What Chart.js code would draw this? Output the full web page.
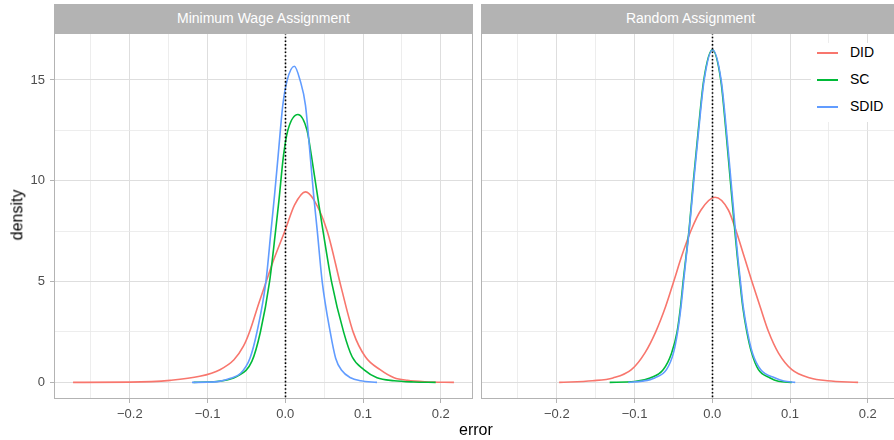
<!DOCTYPE html>
<html>
<head>
<meta charset="utf-8">
<script src="https://cdn.jsdelivr.net/npm/chart.js@4.4.0/dist/chart.umd.min.js"></script>
<style>
  html, body { margin: 0; padding: 0; background: #fff; overflow: hidden; }
  #wrap { position: relative; width: 894px; height: 440px; overflow: hidden;
          font-family: "Liberation Sans", Arial, sans-serif; }
  canvas { position: absolute; top: 0; }
  .strip { position: absolute; top: 4px; height: 29px; background: #b3b3b3; color: #fff;
           font-size: 14px; line-height: 29px; text-align: center; }
  .title { position: absolute; color: #000; font-size: 16px; white-space: nowrap; }
  #legend { position: absolute; left: 811px; top: 43px; width: 90px; height: 79px; background: #fff; }
  .item { position: absolute; left: 0; height: 20px; }
  .key { position: absolute; left: 6px; top: 9px; width: 21px; height: 2px; }
  .lab { position: absolute; left: 39px; top: 1px; font-size: 14px; color: #000; }
</style>
</head>
<body>
<div id="wrap">
  <canvas id="mw" width="474" height="440" style="left:0"></canvas>
  <canvas id="ra" width="420" height="440" style="left:481px"></canvas>
  <div class="strip" style="left:54px;width:419px">Minimum Wage Assignment</div>
  <div class="strip" style="left:481px;width:419px">Random Assignment</div>
  <div class="title" style="left:459px;top:421px">error</div>
  <div class="title" style="left:-8px;top:206px;transform:rotate(-90deg);transform-origin:center">density</div>
  <div id="legend"></div>
</div>
<script>
// series (error, density)
const seriesNames  = ['DID', 'SC', 'SDID'];
const seriesColors = ['#F8766D', '#00BA38', '#619CFF'];

const xTicks = [-0.25, -0.2, -0.15, -0.1, -0.05, 0, 0.05, 0.1, 0.15, 0.2];
const yTicks = [0, 2.5, 5, 7.5, 10, 12.5, 15];

// Minimum Wage Assignment
const mwDidX  = [-0.273, -0.2, -0.148, -0.11, -0.084, -0.066, -0.054, -0.046, -0.034, -0.0245, -0.015, 0, 0.012, 0.026, 0.037, 0.054, 0.072, 0.0875, 0.103, 0.122, 0.14, 0.157, 0.18, 0.217];
const mwDidY  = [0, 0.01, 0.1, 0.3, 0.63, 1.12, 1.78, 2.5, 3.93, 5.0, 6.07, 7.56, 8.8, 9.45, 9.04, 7.5, 4.7, 2.48, 1.27, 0.63, 0.23, 0.1, 0.03, 0];
const mwScX   = [-0.118, -0.1, -0.088, -0.075, -0.062, -0.043, -0.032, -0.0202, -0.0125, -0.0082, -0.0022, 0.0033, 0.0163, 0.028, 0.0335, 0.0425, 0.0486, 0.0595, 0.0752, 0.086, 0.101, 0.118, 0.14, 0.165, 0.1935];
const mwScY   = [0, 0.015, 0.04, 0.12, 0.3, 1.04, 2.5, 5.0, 7.5, 9.0, 11.27, 12.5, 13.29, 12.5, 11.27, 9.0, 7.5, 5.0, 2.48, 1.27, 0.63, 0.23, 0.08, 0.02, 0];
const mwSdidX = [-0.12, -0.1, -0.085, -0.0704, -0.0574, -0.0454, -0.0364, -0.0249, -0.0184, -0.0138, -0.0091, -0.0032, 0.0024, 0.0116, 0.0191, 0.026, 0.032, 0.0365, 0.0412, 0.0475, 0.0578, 0.0648, 0.0725, 0.084, 0.097, 0.118];
const mwSdidY = [0, 0.01, 0.05, 0.2, 0.45, 1.2, 2.5, 5.0, 7.5, 9.29, 11.27, 13.74, 14.98, 15.68, 14.98, 13.74, 11.27, 9.29, 7.5, 5.0, 2.5, 1.2, 0.6, 0.23, 0.08, 0];

// Random Assignment
const raDidX  = [-0.197, -0.154, -0.1277, -0.104, -0.0868, -0.0726, -0.06, -0.0494, -0.0395, -0.0275, -0.0145, 0.0035, 0.0207, 0.0306, 0.041, 0.0508, 0.0615, 0.0723, 0.0852, 0.1024, 0.126, 0.148, 0.1876];
const raDidY  = [0, 0.08, 0.22, 0.63, 1.45, 2.52, 3.76, 5.03, 6.24, 7.52, 8.55, 9.18, 8.55, 7.52, 6.24, 5.03, 3.76, 2.52, 1.45, 0.63, 0.22, 0.08, 0];
const raScX   = [-0.132, -0.1, -0.08, -0.0632, -0.0524, -0.0452, -0.0408, -0.0374, -0.0338, -0.03, -0.0242, -0.018, -0.011, 0, 0.011, 0.0175, 0.0232, 0.029, 0.0322, 0.0355, 0.0392, 0.0444, 0.0508, 0.0594, 0.0745, 0.085, 0.1024];
const raScY   = [0, 0.04, 0.22, 0.63, 1.45, 2.52, 3.76, 5.03, 6.24, 7.52, 10.03, 12.5, 14.98, 16.5, 14.98, 12.5, 10.03, 7.52, 6.24, 5.03, 3.76, 2.52, 1.45, 0.63, 0.22, 0.06, 0];
const raSdidX = [-0.108, -0.09, -0.074, -0.0589, -0.05, -0.0445, -0.0402, -0.0368, -0.0335, -0.0297, -0.0237, -0.0175, -0.0105, 0.0005, 0.0115, 0.0182, 0.024, 0.0298, 0.0328, 0.0362, 0.0398, 0.0452, 0.0518, 0.0624, 0.081, 0.092, 0.1067];
const raSdidY = [0, 0.06, 0.22, 0.63, 1.45, 2.52, 3.76, 5.03, 6.24, 7.52, 10.03, 12.5, 14.98, 16.5, 14.98, 12.5, 10.03, 7.52, 6.24, 5.03, 3.76, 2.52, 1.45, 0.63, 0.22, 0.07, 0];

const X_MIN = -0.2975, X_MAX = 0.2415;
const Y_MIN = -0.825, Y_MAX = 17.33;

Chart.defaults.font.family = '"Liberation Sans", Arial, sans-serif';

const isMajor = (v, step) => Math.abs(v / step - Math.round(v / step)) < 1e-6;
const fmtX = v => (Math.abs(v) < 1e-9 ? 0 : v).toFixed(1).replace('-', '\u2212');

// panel border + dotted zero line, drawn over the curves like ggplot
const panelDecor = {
  id: 'panelDecor',
  afterDatasetsDraw(chart) {
    const { ctx, chartArea: a, scales } = chart;
    ctx.save();
    const x0 = Math.round(scales.x.getPixelForValue(0)) + 0.5;
    ctx.strokeStyle = '#000';
    ctx.lineWidth = 1.6;
    ctx.setLineDash([1.6, 2.1]);
    ctx.beginPath();
    ctx.moveTo(x0, a.top);
    ctx.lineTo(x0, a.bottom);
    ctx.stroke();
    ctx.setLineDash([]);
    ctx.strokeStyle = '#b3b3b3';
    ctx.lineWidth = 1;
    ctx.strokeRect(Math.round(a.left) + 0.5, Math.round(a.top) + 0.5,
                   Math.round(a.right - a.left) - 1, Math.round(a.bottom - a.top) - 1);
    ctx.restore();
  }
};

function pairs(xs, ys) {
  return xs.map((x, i) => ({ x, y: ys[i] }));
}

function makePanel(id, lists, showY) {
  const datasets = lists.map((l, i) => ({
    label: seriesNames[i],
    data: pairs(l[0], l[1]),
    borderColor: seriesColors[i],
    borderWidth: 1.6,
    pointRadius: 0,
    fill: false,
    cubicInterpolationMode: 'monotone',
    order: lists.length - i   // SDID on top
  }));
  return new Chart(document.getElementById(id), {
    type: 'line',
    data: { datasets },
    options: {
      responsive: false,
      animation: false,
      layout: { padding: { top: 33, right: 1, left: 0, bottom: 0 } },
      plugins: { legend: { display: false }, tooltip: { enabled: false } },
      scales: {
        x: {
          type: 'linear', min: X_MIN, max: X_MAX,
          afterBuildTicks: s => { s.ticks = xTicks.map(v => ({ value: v })); },
          afterFit: s => { s.height = 41; },
          border: { display: false },
          grid: {
            color: c => isMajor(c.tick.value, 0.1) ? '#dedede' : '#e8e8e8',
            lineWidth: c => isMajor(c.tick.value, 0.1) ? 1 : 0.8,
            tickColor: c => isMajor(c.tick.value, 0.1) ? '#b3b3b3' : 'rgba(0,0,0,0)',
            tickLength: 4,
            tickWidth: 1
          },
          ticks: {
            autoSkip: false, maxRotation: 0, padding: 4,
            color: '#4d4d4d', font: { size: 13 },
            callback: v => isMajor(v, 0.1) ? fmtX(v) : ''
          }
        },
        y: {
          type: 'linear', min: Y_MIN, max: Y_MAX,
          afterBuildTicks: s => { s.ticks = yTicks.map(v => ({ value: v })); },
          afterFit: s => { s.width = showY ? 54 : 0; },
          border: { display: false },
          grid: {
            color: c => isMajor(c.tick.value, 5) ? '#dedede' : '#e8e8e8',
            lineWidth: c => isMajor(c.tick.value, 5) ? 1 : 0.8,
            tickColor: c => isMajor(c.tick.value, 5) ? '#b3b3b3' : 'rgba(0,0,0,0)',
            drawTicks: showY,
            tickLength: 4,
            tickWidth: 1
          },
          ticks: {
            display: showY, autoSkip: false, padding: 5,
            color: '#4d4d4d', font: { size: 13 },
            callback: v => isMajor(v, 5) ? String(v) : ''
          }
        }
      }
    },
    plugins: [panelDecor]
  });
}

makePanel('mw', [[mwDidX, mwDidY], [mwScX, mwScY], [mwSdidX, mwSdidY]], true);
makePanel('ra', [[raDidX, raDidY], [raScX, raScY], [raSdidX, raSdidY]], false);

// legend inside the right panel
const legend = document.getElementById('legend');
const keyTops = [0, 27, 54];
seriesNames.forEach((name, i) => {
  const item = document.createElement('div');
  item.className = 'item';
  item.style.top = keyTops[i] + 'px';
  item.innerHTML = '<div class="key" style="background:' + seriesColors[i] + '"></div>' +
                   '<div class="lab">' + name + '</div>';
  legend.appendChild(item);
});
</script>
</body>
</html>
